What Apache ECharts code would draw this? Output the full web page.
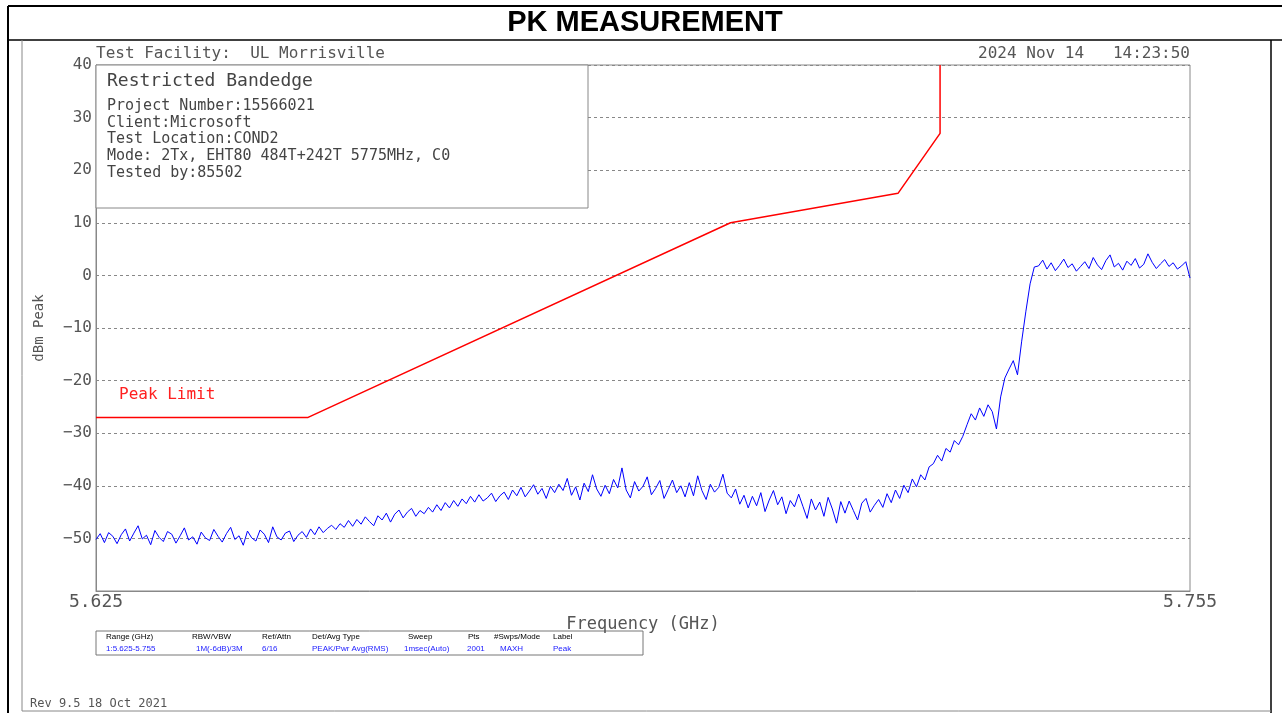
<!DOCTYPE html>
<html>
<head>
<meta charset="utf-8">
<title>PK MEASUREMENT</title>
<script src="https://cdn.jsdelivr.net/npm/echarts@6/dist/echarts.min.js"></script>
<style>
  html, body { margin: 0; padding: 0; background: #fff; }
  #chart { width: 1282px; height: 713px; }
</style>
</head>
<body>
<div id="chart"></div>
<script>
// sweep settings (GHz)
var freqStart = 5.625;
var freqStop = 5.755;
var freqStep = 0.0005;

// y ticks (dBm)
var yTicks = [40, 30, 20, 10, 0, -10, -20, -30, -40, -50];

// peak limit corners [GHz, dBm]
var limitFreqs = [5.625, 5.6502, 5.7004, 5.7203, 5.7253, 5.7253];
var limitLevels = [-27, -27, 10, 15.6, 27, 40];

var traceLevels = [
  -50.2, -49.1, -50.8, -48.9, -49.6, -51.0, -49.3, -48.2, -50.5, -49.0,
  -47.6, -50.1, -49.4, -51.2, -48.5, -49.8, -50.6, -48.7, -49.2, -50.9,
  -49.5, -48.0, -50.3, -49.7, -51.1, -48.8, -49.9, -50.4, -48.3, -49.6,
  -50.7, -49.1, -47.9, -50.2, -49.5, -51.3, -48.6, -49.9, -50.5, -48.4,
  -49.2, -50.8, -47.8, -49.7, -50.3, -49.0, -48.6, -50.6, -49.4,
  -48.7, -49.8, -48.2, -49.3, -47.8, -48.9, -48.1, -47.5,
  -48.3, -47.2, -47.9, -46.6, -47.7, -46.4, -47.3, -45.9, -46.8, -47.6, -45.7,
  -46.5, -45.2, -46.9, -45.4, -44.6, -46.1, -45.0, -44.3, -45.8, -44.7, -45.3,
  -44.1, -45.0, -43.6, -44.7, -43.2, -44.2, -42.8, -43.9, -42.5,
  -43.4, -42.0, -43.1, -41.7, -42.9, -42.3, -41.4, -43.0, -41.9,
  -41.2, -42.6, -40.8, -41.9, -40.3, -42.1, -41.0, -39.8, -41.6, -40.5, -42.4, -40.1, -41.3, -39.7,
  -40.9, -38.6, -41.8, -40.2, -42.7, -39.5, -41.1, -37.9, -40.6, -42.0,
  -39.9, -41.5, -38.8, -40.4, -36.6, -40.8, -42.3, -39.2, -41.0, -40.1,
  -38.3, -41.7, -40.5, -39.0, -42.4, -40.7, -38.9, -41.3, -40.0, -42.1,
  -39.4, -41.9, -38.1, -40.9, -42.6, -39.7, -41.2, -40.3, -37.8, -41.4,
  -42.3, -40.6, -43.5, -41.8, -44.2, -42.0, -43.8, -41.3, -44.9, -42.7,
  -40.9, -43.6, -42.1, -45.3, -42.8, -44.0, -41.6, -43.9, -46.2, -42.5,
  -44.6, -43.1, -45.8, -42.2, -44.4, -47.1, -43.0, -45.2, -42.9, -44.7,
  -46.5, -43.3, -42.4, -45.0, -43.7,
  -42.6, -44.1, -41.5, -43.2, -40.8, -42.4, -39.9, -41.3, -38.7, -40.2, -37.9,
  -38.9, -36.4, -35.8, -34.2, -35.3, -32.9, -33.6, -31.4, -32.2, -30.6,
  -28.4, -26.3, -27.5, -25.2, -26.8, -24.6, -25.9, -29.2, -23.1, -19.5,
  -17.8, -16.2, -18.9, -12.5, -6.8, -1.6, 1.6,
  1.8, 2.9, 1.2, 2.4, 0.9, 1.9, 3.1, 1.5, 2.2, 0.8,
  1.7, 2.6, 1.3, 3.4, 2.0, 1.1, 2.8, 3.9, 1.6, 2.3,
  1.0, 2.7, 1.9, 3.2, 1.4, 2.1, 4.1, 2.5, 1.3, 2.2,
  3.0, 1.7, 2.4, 1.2, 1.8, 2.6, -0.5
];

// header texts
var titleText = 'PK MEASUREMENT';
var facilityText = 'Test Facility:  UL Morrisville';
var dateText = '2024 Nov 14   14:23:50';
var boxTitle = 'Restricted Bandedge';
var boxLines = [
  'Project Number:15566021',
  'Client:Microsoft',
  'Test Location:COND2',
  'Mode: 2Tx, EHT80 484T+242T 5775MHz, C0',
  'Tested by:85502'
];
var tableHeaders = ['Range (GHz)', 'RBW/VBW', 'Ref/Attn', 'Det/Avg Type', 'Sweep', 'Pts', '#Swps/Mode', 'Label'];
var tableValues = ['1:5.625-5.755', '1M(-6dB)/3M', '6/16', 'PEAK/Pwr Avg(RMS)', '1msec(Auto)', '2001', 'MAXH', 'Peak'];
var revText = 'Rev 9.5 18 Oct 2021';

var mono = "'DejaVu Sans Mono', monospace";
var chart = echarts.init(document.getElementById('chart'));

var traceData = traceLevels.map(function (v, i) {
  return [+(freqStart + i * freqStep).toFixed(4), v];
});
var limitData = limitFreqs.map(function (f, i) {
  return [f, limitLevels[i]];
});

// table column x positions
var headX = [106, 192, 262, 312, 408, 468, 494, 553];
var valX = [106, 196, 262, 312, 404, 467, 500, 553];

var graphics = [
  // page frame
  { type: 'line', shape: { x1: 8, y1: 6, x2: 1282, y2: 6 }, style: { stroke: '#000', lineWidth: 2 } },
  { type: 'line', shape: { x1: 8, y1: 6, x2: 8, y2: 713 }, style: { stroke: '#000', lineWidth: 2 } },
  { type: 'line', shape: { x1: 8, y1: 40, x2: 1282, y2: 40 }, style: { stroke: '#000', lineWidth: 1.5 } },
  { type: 'line', shape: { x1: 1271, y1: 40, x2: 1271, y2: 713 }, style: { stroke: '#000', lineWidth: 1.5 } },
  { type: 'line', shape: { x1: 22, y1: 40, x2: 22, y2: 711 }, style: { stroke: '#888', lineWidth: 1 } },
  { type: 'line', shape: { x1: 22, y1: 711, x2: 1271, y2: 711 }, style: { stroke: '#888', lineWidth: 1 } },
  {
    type: 'text', x: 645, y: 23,
    style: { text: titleText, font: "bold 29px 'Liberation Sans Narrow', 'Liberation Sans', sans-serif", fill: '#000', textAlign: 'center', textVerticalAlign: 'middle' }
  },
  {
    type: 'text', x: 96, y: 54,
    style: { text: facilityText, font: '16px ' + mono, fill: '#555', textAlign: 'left', textVerticalAlign: 'middle' }
  },
  {
    type: 'text', x: 1190, y: 54,
    style: { text: dateText, font: '16px ' + mono, fill: '#555', textAlign: 'right', textVerticalAlign: 'middle' }
  },
  // info box
  {
    type: 'rect', z: 100, shape: { x: 96, y: 65, width: 492, height: 143 },
    style: { fill: '#fff', stroke: '#888', lineWidth: 1 }
  },
  {
    type: 'text', z: 101, x: 107, y: 81,
    style: { text: boxTitle, font: '18px ' + mono, fill: '#444', textAlign: 'left', textVerticalAlign: 'middle' }
  },
  {
    type: 'text', x: 119, y: 395,
    style: { text: 'Peak Limit', font: '16px ' + mono, fill: '#ff2020', textAlign: 'left', textVerticalAlign: 'middle' }
  },
  // settings table
  {
    type: 'rect', shape: { x: 96, y: 631, width: 547, height: 24 },
    style: { fill: '#fff', stroke: '#777', lineWidth: 1 }
  },
  {
    type: 'text', x: 30, y: 704,
    style: { text: revText, font: '12px ' + mono, fill: '#555', textAlign: 'left', textVerticalAlign: 'middle' }
  }
];

boxLines.forEach(function (t, i) {
  graphics.push({
    type: 'text', z: 101, x: 107, y: 106 + i * 16.8,
    style: { text: t, font: '15px ' + mono, fill: '#444', textAlign: 'left', textVerticalAlign: 'middle' }
  });
});
tableHeaders.forEach(function (t, i) {
  graphics.push({
    type: 'text', x: headX[i], y: 637,
    style: { text: t, font: "8px 'Liberation Sans', sans-serif", fill: '#000', textAlign: 'left', textVerticalAlign: 'middle' }
  });
});
tableValues.forEach(function (t, i) {
  graphics.push({
    type: 'text', x: valX[i], y: 649,
    style: { text: t, font: "8px 'Liberation Sans', sans-serif", fill: '#1a1aff', textAlign: 'left', textVerticalAlign: 'middle' }
  });
});

chart.setOption({
  animation: false,
  backgroundColor: '#fff',
  grid: {
    left: 96, top: 65, right: 92, bottom: 122,
    show: true, borderColor: '#888', borderWidth: 1
  },
  xAxis: {
    type: 'value',
    min: freqStart,
    max: freqStop,
    name: 'Frequency (GHz)',
    nameLocation: 'middle',
    nameGap: 25,
    nameTextStyle: { fontFamily: mono, fontSize: 17, color: '#555' },
    axisLine: { show: true, onZero: false, lineStyle: { color: '#888' } },
    axisTick: { show: false },
    splitLine: { show: false },
    axisLabel: {
      showMinLabel: true,
      showMaxLabel: true,
      margin: 2,
      fontFamily: mono,
      fontSize: 18,
      color: '#555',
      formatter: function (v) {
        if (Math.abs(v - freqStart) < 1e-6 || Math.abs(v - freqStop) < 1e-6) return v.toFixed(3);
        return '';
      }
    }
  },
  yAxis: {
    type: 'value',
    min: -60,
    max: 40,
    interval: 10,
    name: 'dBm Peak',
    nameLocation: 'middle',
    nameRotate: 90,
    nameGap: 50,
    nameTextStyle: { fontFamily: mono, fontSize: 14, color: '#555' },
    axisLine: { show: true, lineStyle: { color: '#888' } },
    axisTick: { show: false },
    axisLabel: {
      margin: 4,
      fontFamily: mono,
      fontSize: 16,
      color: '#555',
      formatter: function (v) {
        return yTicks.indexOf(v) >= 0 ? String(v).replace('-', '\u2212') : '';
      }
    },
    splitLine: { show: true, lineStyle: { color: '#888', type: [3, 3], width: 1 } }
  },
  series: [
    {
      name: 'Peak Limit',
      type: 'line',
      data: limitData,
      showSymbol: false,
      lineStyle: { color: '#ff0000', width: 1.5 },
      z: 3
    },
    {
      name: 'Peak',
      type: 'line',
      data: traceData,
      showSymbol: false,
      lineStyle: { color: '#0000ff', width: 1 },
      z: 2
    }
  ],
  graphic: graphics
});

window.addEventListener('resize', function () {
  chart.resize();
});
</script>
</body>
</html>
